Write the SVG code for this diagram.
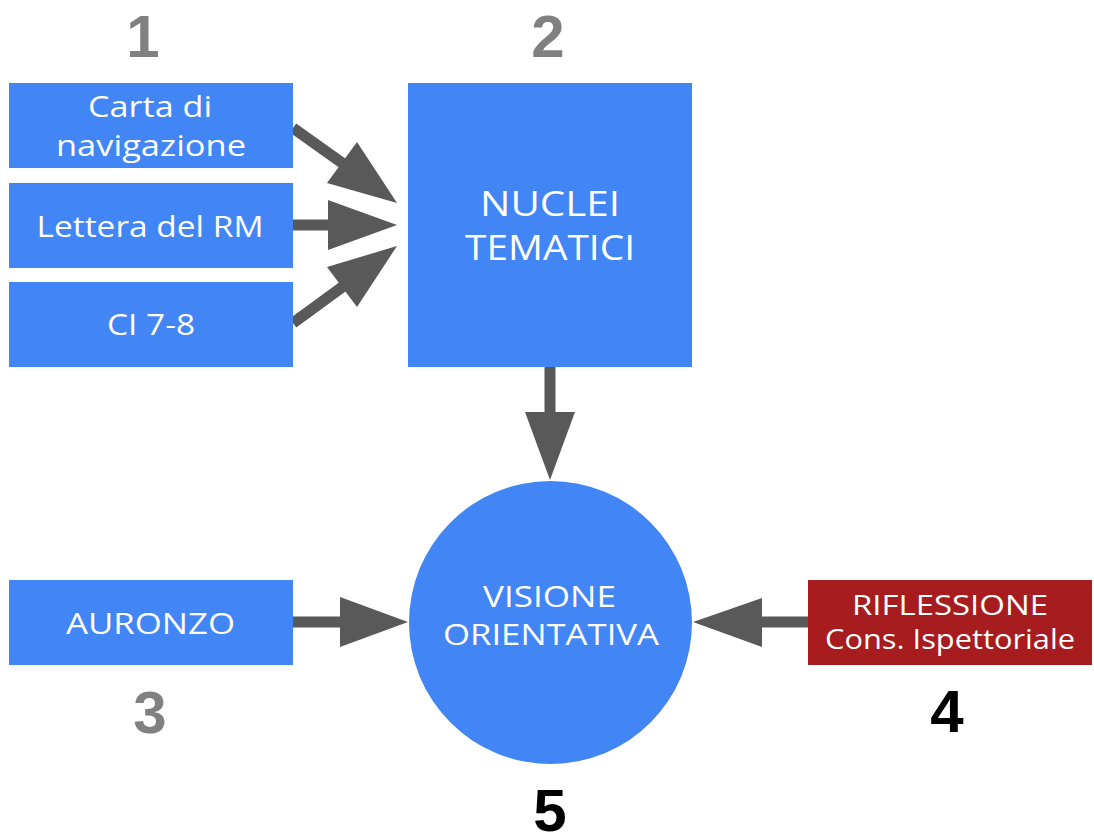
<svg xmlns="http://www.w3.org/2000/svg" width="1094" height="837" viewBox="0 0 1094 837">
<style>
.box{fill:#4285f4}
.red{fill:#a61c1f}
.t{font-family:"Open Sans","Liberation Sans",sans-serif;fill:#ffffff;text-anchor:middle;font-size:29px}
.sm{font-size:27px}
.big{font-size:35px}
.num{font-family:"Liberation Sans",Arial,sans-serif;font-weight:bold;font-size:60px;text-anchor:middle}
.g{fill:#808080}
.k{fill:#000000}
.sh{stroke:#595959;stroke-width:11;fill:none}
.hd{fill:#595959}
</style>
<rect width="1094" height="837" fill="#ffffff"/>
<g id="connectors">
<line class="sh" x1="293" y1="128" x2="345" y2="165"/>
<polygon class="hd" points="397,203 357,142 327,183"/>
<line class="sh" x1="293" y1="225" x2="330" y2="225"/>
<polygon class="hd" points="397,225 328,200 328,250"/>
<line class="sh" x1="293" y1="323" x2="345" y2="285"/>
<polygon class="hd" points="397,246 327,267 357,307"/>
<line class="sh" x1="550" y1="367" x2="550" y2="414"/>
<polygon class="hd" points="550,480 525,412 575,412"/>
<line class="sh" x1="293" y1="622" x2="342" y2="622"/>
<polygon class="hd" points="408,622 340,597 340,647"/>
<line class="sh" x1="808" y1="622" x2="760" y2="622"/>
<polygon class="hd" points="693,622 762,598 762,647"/>
</g>
<g id="n1"><rect class="box" x="9" y="83" width="284" height="85"/>
<text class="t" x="150" y="117" textLength="124" lengthAdjust="spacingAndGlyphs">Carta di</text>
<text class="t" x="151" y="156" textLength="190" lengthAdjust="spacingAndGlyphs">navigazione</text></g>
<g id="n2"><rect class="box" x="9" y="183" width="284" height="85"/>
<text class="t" x="150" y="237" textLength="227" lengthAdjust="spacingAndGlyphs">Lettera del RM</text></g>
<g id="n3"><rect class="box" x="9" y="282" width="284" height="85"/>
<text class="t" x="151" y="335" textLength="88" lengthAdjust="spacingAndGlyphs">CI 7-8</text></g>
<g id="nuclei"><rect class="box" x="408" y="83" width="284" height="284"/>
<text class="t big" x="550" y="216" textLength="140" lengthAdjust="spacingAndGlyphs">NUCLEI</text>
<text class="t big" x="550" y="260" textLength="170" lengthAdjust="spacingAndGlyphs">TEMATICI</text></g>
<g id="visione"><circle class="box" cx="550.5" cy="622.5" r="141.5"/>
<text class="t" x="549.5" y="607" textLength="133" lengthAdjust="spacingAndGlyphs">VISIONE</text>
<text class="t" x="551" y="645" textLength="216" lengthAdjust="spacingAndGlyphs">ORIENTATIVA</text></g>
<g id="auronzo"><rect class="box" x="9" y="580" width="284" height="85"/>
<text class="t" x="150.5" y="634" textLength="169" lengthAdjust="spacingAndGlyphs">AURONZO</text></g>
<g id="riflessione"><rect class="red" x="808" y="580" width="284" height="85"/>
<text class="t sm" x="950" y="615" textLength="196" lengthAdjust="spacingAndGlyphs">RIFLESSIONE</text>
<text class="t sm" x="950" y="649" textLength="250" lengthAdjust="spacingAndGlyphs">Cons. Ispettoriale</text></g>
<g id="labels">
<text class="num g" x="143" y="57">1</text>
<text class="num g" x="548" y="57">2</text>
<text class="num g" x="150" y="733">3</text>
<text class="num k" x="947" y="732">4</text>
<text class="num k" x="550" y="831">5</text>
</g>
</svg>
